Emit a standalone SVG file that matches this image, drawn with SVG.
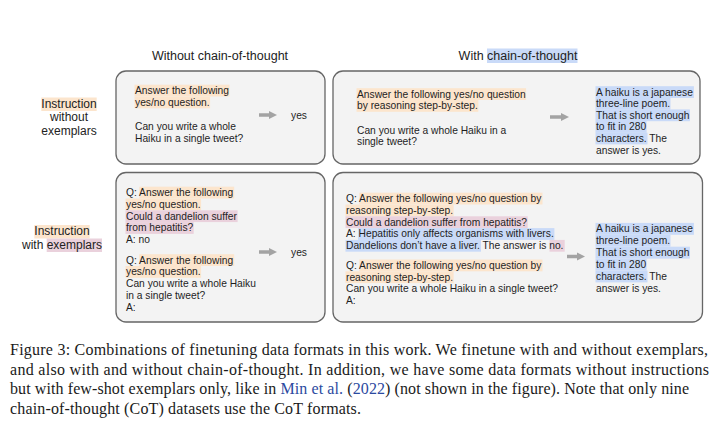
<svg xmlns="http://www.w3.org/2000/svg" width="720" height="421" viewBox="0 0 720 421">
<style>
.box{fill:#f3f3f3;stroke:#666;stroke-width:1.3}
.t{font-family:"Liberation Sans",Arial,sans-serif;font-size:10.25px;fill:#1e1e1e}
.h{font-family:"Liberation Sans",Arial,sans-serif;font-size:12.5px;fill:#222}
.lbl{font-family:"Liberation Sans",Arial,sans-serif;font-size:12px;fill:#222}
.o{fill:#fce5cd}.p{fill:#ead1dc}.b{fill:#c9daf8}
.arr{stroke:#a3a3a3;stroke-width:3.5;fill:none;marker-end:url(#ah)}
.cap{font-family:"Liberation Serif","Times New Roman",serif;font-size:16px;fill:#1a1a1a}
.lnk{fill:#2b4aa0}
</style>
<defs>
<marker id="ah" markerUnits="userSpaceOnUse" markerWidth="8" markerHeight="10" viewBox="0 0 8 10" refX="0" refY="5" orient="auto">
<path d="M0,1 L8,5 L0,9 Z" fill="#a3a3a3"/>
</marker>
</defs>
<rect width="720" height="421" fill="#fff"/>

<g id="header-without">
<text class="h" x="220" y="59.5" text-anchor="middle">Without chain-of-thought</text>
</g>
<g id="header-with">
<rect class="b" x="487" y="48.5" width="90.5" height="14.5"/>
<text class="h" x="458.6" y="59.5">With chain-of-thought</text>
</g>

<g id="label-without-exemplars">
<rect class="o" x="41.3" y="97.5" width="55.4" height="13.5"/>
<text class="lbl" x="69" y="107.5" text-anchor="middle">Instruction</text>
<text class="lbl" x="69" y="121.3" text-anchor="middle">without</text>
<text class="lbl" x="69" y="135" text-anchor="middle">exemplars</text>
</g>
<g id="label-with-exemplars">
<rect class="o" x="34.3" y="225" width="55.4" height="13.5"/>
<rect class="p" x="46.7" y="238.5" width="55.3" height="13.5"/>
<text class="lbl" x="62" y="235" text-anchor="middle">Instruction</text>
<text class="lbl" x="22" y="248.5">with exemplars</text>
</g>

<g id="box-noex-nocot">
<rect class="box" x="116" y="71" width="209" height="93" rx="10"/>
<rect class="o" x="134.5" y="84.7" width="95" height="11.8"/>
<rect class="o" x="134.5" y="96.5" width="75.6" height="11.8"/>
<text class="t" x="135" y="94">Answer the following</text>
<text class="t" x="135" y="105.8">yes/no question.</text>
<text class="t" x="135" y="129.8">Can you write a whole</text>
<text class="t" x="135" y="141.6">Haiku in a single tweet?</text>
<text class="t" x="291" y="118.5">yes</text>
</g>

<g id="box-noex-cot">
<rect class="box" x="333" y="71" width="367" height="93" rx="10"/>
<rect class="o" x="356.5" y="88.2" width="169.6" height="11.8"/>
<rect class="o" x="356.5" y="100" width="121.8" height="11.8"/>
<text class="t" x="357" y="97.5">Answer the following yes/no question</text>
<text class="t" x="357" y="109.3">by reasoning step-by-step.</text>
<text class="t" x="357" y="133.5">Can you write a whole Haiku in a</text>
<text class="t" x="357" y="145.3">single tweet?</text>
<rect class="b" x="595.5" y="86.2" width="98.4" height="11.8"/>
<rect class="b" x="595.5" y="97.8" width="75" height="11.8"/>
<rect class="b" x="595.5" y="109.4" width="94.4" height="11.8"/>
<rect class="b" x="595.5" y="121" width="51.1" height="11.8"/>
<rect class="b" x="595.5" y="132.6" width="52" height="11.8"/>
<text class="t" x="596" y="95.5">A haiku is a japanese</text>
<text class="t" x="596" y="107.1">three-line poem.</text>
<text class="t" x="596" y="118.7">That is short enough</text>
<text class="t" x="596" y="130.3">to fit in 280</text>
<text class="t" x="596" y="141.9">characters. The</text>
<text class="t" x="596" y="153.5">answer is yes.</text>
</g>

<g id="box-ex-nocot">
<rect class="box" x="116" y="172.5" width="209" height="149.5" rx="10"/>
<rect class="o" x="139.2" y="186.7" width="95" height="11.8"/>
<rect class="o" x="125.5" y="198.5" width="75.6" height="11.8"/>
<rect class="p" x="125.5" y="210.3" width="112.1" height="11.8"/>
<rect class="p" x="125.5" y="222.1" width="68.2" height="11.8"/>
<rect class="o" x="139.2" y="254.2" width="95" height="11.8"/>
<rect class="o" x="125.5" y="266" width="75.6" height="11.8"/>
<text class="t" x="126" y="196">Q: Answer the following</text>
<text class="t" x="126" y="207.8">yes/no question.</text>
<text class="t" x="126" y="219.6">Could a dandelion suffer</text>
<text class="t" x="126" y="231.4">from hepatitis?</text>
<text class="t" x="126" y="243.2">A: no</text>
<text class="t" x="126" y="263.5">Q: Answer the following</text>
<text class="t" x="126" y="275.3">yes/no question.</text>
<text class="t" x="126" y="287.1">Can you write a whole Haiku</text>
<text class="t" x="126" y="298.9">in a single tweet?</text>
<text class="t" x="126" y="310.7">A:</text>
<text class="t" x="291" y="255.5">yes</text>
</g>

<g id="box-ex-cot">
<rect class="box" x="333" y="172.5" width="369.5" height="149.5" rx="10"/>
<rect class="o" x="359.2" y="192.7" width="183.3" height="11.8"/>
<rect class="o" x="345.5" y="204.5" width="108.1" height="11.8"/>
<rect class="p" x="345.5" y="216.3" width="182.2" height="11.8"/>
<rect class="b" x="358" y="228.1" width="196.4" height="11.8"/>
<rect class="b" x="345.5" y="239.9" width="135.5" height="11.8"/>
<rect class="p" x="549.5" y="239.9" width="15.2" height="11.8"/>
<rect class="o" x="359.2" y="259.5" width="183.3" height="11.8"/>
<rect class="o" x="345.5" y="271.3" width="108.1" height="11.8"/>
<text class="t" x="346" y="202">Q: Answer the following yes/no question by</text>
<text class="t" x="346" y="213.8">reasoning step-by-step.</text>
<text class="t" x="346" y="225.6">Could a dandelion suffer from hepatitis?</text>
<text class="t" x="346" y="237.4">A: Hepatitis only affects organisms with livers.</text>
<text class="t" x="346" y="249.2">Dandelions don’t have a liver. The answer is no.</text>
<text class="t" x="346" y="268.8">Q: Answer the following yes/no question by</text>
<text class="t" x="346" y="280.6">reasoning step-by-step.</text>
<text class="t" x="346" y="292.4">Can you write a whole Haiku in a single tweet?</text>
<text class="t" x="346" y="304.2">A:</text>
<rect class="b" x="595.5" y="222.9" width="98.4" height="11.9"/>
<rect class="b" x="595.5" y="234.8" width="75" height="11.9"/>
<rect class="b" x="595.5" y="246.7" width="94.4" height="11.9"/>
<rect class="b" x="595.5" y="258.6" width="51.1" height="11.9"/>
<rect class="b" x="595.5" y="270.5" width="52" height="11.9"/>
<text class="t" x="596" y="232.2">A haiku is a japanese</text>
<text class="t" x="596" y="244.1">three-line poem.</text>
<text class="t" x="596" y="256">That is short enough</text>
<text class="t" x="596" y="267.9">to fit in 280</text>
<text class="t" x="596" y="279.8">characters. The</text>
<text class="t" x="596" y="291.7">answer is yes.</text>
</g>

<g id="connectors">
<path class="arr" d="M259,115 H269"/>
<path class="arr" d="M550,117 H561"/>
<path class="arr" d="M259,252 H269"/>
<path class="arr" d="M567,256.5 H577"/>
</g>

<g id="caption">
<text class="cap" x="10" y="354.5" textLength="698" lengthAdjust="spacing">Figure 3: Combinations of finetuning data formats in this work. We finetune with and without exemplars,</text>
<text class="cap" x="10" y="374.5" textLength="699" lengthAdjust="spacing">and also with and without chain-of-thought. In addition, we have some data formats without instructions</text>
<text class="cap" x="10" y="394" textLength="679" lengthAdjust="spacing">but with few-shot exemplars only, like in <tspan class="lnk">Min et al.</tspan> (<tspan class="lnk">2022</tspan>) (not shown in the figure). Note that only nine</text>
<text class="cap" x="10" y="413.5" textLength="351" lengthAdjust="spacing">chain-of-thought (CoT) datasets use the CoT formats.</text>
</g>
</svg>
